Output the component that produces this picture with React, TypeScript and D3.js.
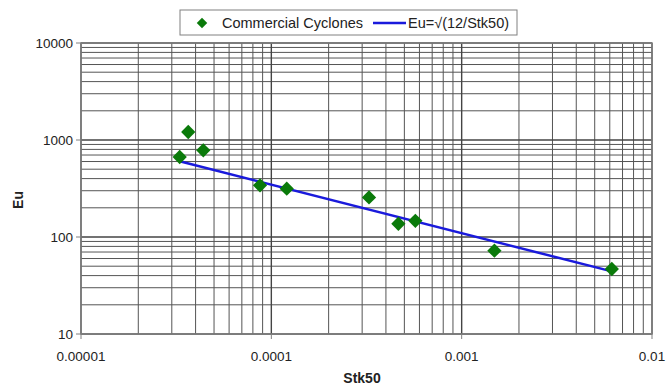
import React from "react";
import * as d3 from "d3";

const stk50 = [3.3e-5, 3.66e-5, 4.39e-5, 8.72e-5, 1.205e-4, 3.26e-4, 4.65e-4, 5.71e-4, 1.486e-3, 6.15e-3];
const eu = [668, 1209, 783, 341, 315, 256, 137, 147, 72.3, 46.8];
const lineStk = [3.3e-5, 6.15e-3];
const lineEu = [603, 44.2];
const xTicks = [1e-5, 1e-4, 1e-3, 1e-2];
const xTickLabels = ["0.00001", "0.0001", "0.001", "0.01"];
const yTicks = [10, 100, 1000, 10000];
const yTickLabels = ["10", "100", "1000", "10000"];

const W = 667, H = 387;
const L = 81, R = 652, T = 43, B = 334;
const FONT = "Liberation Sans, Arial, sans-serif";

export default function App() {
  const x = d3.scaleLog().domain([1e-5, 1e-2]).range([L, R]);
  const y = d3.scaleLog().domain([10, 10000]).range([B, T]);
  const xMinor: number[] = [];
  for (let e = -5; e < -2; e++) for (let m = 2; m <= 9; m++) xMinor.push(m * Math.pow(10, e));
  const yMinor: number[] = [];
  for (let e = 1; e < 4; e++) for (let m = 2; m <= 9; m++) yMinor.push(m * Math.pow(10, e));
  const line = d3.line<number>().x((_, i) => x(lineStk[i])).y((d) => y(d));
  const diamond = d3.symbol().type(d3.symbolDiamond2).size(130);
  const legDiamond = d3.symbol().type(d3.symbolDiamond2).size(70);
  return (
    <svg width={W} height={H} style={{ position: "absolute", left: 0, top: 0, background: "#fff" }} fontFamily={FONT}>
      <rect x={0} y={0} width={W} height={H} fill="#fff" />
      {xMinor.map((v, i) => (
        <line key={"xm" + i} x1={x(v)} x2={x(v)} y1={T} y2={B} stroke="#555" strokeWidth={1} />
      ))}
      {yMinor.map((v, i) => (
        <line key={"ym" + i} x1={L} x2={R} y1={y(v)} y2={y(v)} stroke="#555" strokeWidth={1} />
      ))}
      {xTicks.map((v, i) => (
        <line key={"xM" + i} x1={x(v)} x2={x(v)} y1={T} y2={B} stroke="#444" strokeWidth={1.4} />
      ))}
      {yTicks.map((v, i) => (
        <line key={"yM" + i} x1={L} x2={R} y1={y(v)} y2={y(v)} stroke="#444" strokeWidth={1.4} />
      ))}
      <rect x={L} y={T} width={R - L} height={B - T} fill="none" stroke="#808080" strokeWidth={1.5} />
      {yTicks.map((v, i) => (
        <g key={"yt" + i}>
          <line x1={L - 5} x2={L} y1={y(v)} y2={y(v)} stroke="#808080" />
          <text x={L - 8} y={y(v)} dy="0.35em" textAnchor="end" fontSize={13.5} fill="#222">{yTickLabels[i]}</text>
        </g>
      ))}
      {xTicks.map((v, i) => (
        <g key={"xt" + i}>
          <line x1={x(v)} x2={x(v)} y1={B} y2={B + 5} stroke="#808080" />
          <text x={x(v)} y={B + 22} dy="0.35em" textAnchor="middle" fontSize={13.5} fill="#222">{xTickLabels[i]}</text>
        </g>
      ))}
      <path d={line(lineEu) || ""} fill="none" stroke="#1a1adc" strokeWidth={2.5} />
      {stk50.map((v, i) => (
        <path key={"p" + i} d={diamond() || ""} transform={`translate(${x(v)},${y(eu[i])})`} fill="#0a7a0a" />
      ))}
      <text x={362} y={378} dy="0.35em" textAnchor="middle" fontSize={14} fontWeight="bold" fill="#222">Stk50</text>
      <text transform="translate(18,200) rotate(-90)" dy="0.35em" textAnchor="middle" fontSize={14} fontWeight="bold" fill="#222">Eu</text>
      <rect x={180} y={10} width={337} height={25} fill="#fff" stroke="#808080" strokeWidth={1} />
      <path d={legDiamond() || ""} transform="translate(202,23)" fill="#0a7a0a" />
      <text x={222} y={22.5} dy="0.35em" fontSize={14.5} fill="#222">Commercial Cyclones</text>
      <line x1={373} x2={406} y1={23} y2={23} stroke="#1a1adc" strokeWidth={2.5} />
      <text x={408} y={22.5} dy="0.35em" fontSize={14.5} fill="#222">Eu=√(12/Stk50)</text>
    </svg>
  );
}
